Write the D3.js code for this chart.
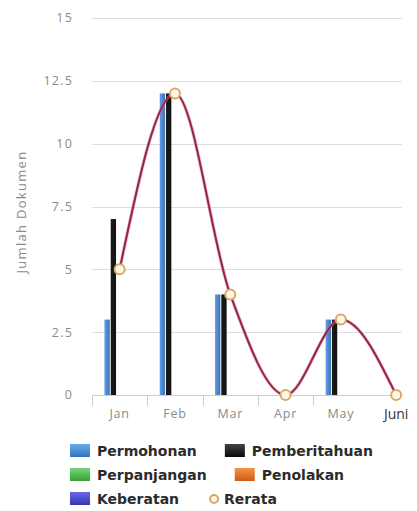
<!DOCTYPE html>
<html>
<head>
<meta charset="utf-8">
<script src="https://cdn.jsdelivr.net/npm/d3@7"></script>
<style>
  html, body { margin: 0; padding: 0; background: #fff; }
  svg { display: block; }
</style>
</head>
<body>
<svg id="chart" width="417" height="511"></svg>
<script>
// ---- data ----
const months = ["Jan", "Feb", "Mar", "Apr", "May", "Juni"];
const seriesNames = ["Permohonan", "Pemberitahuan", "Perpanjangan", "Penolakan", "Keberatan"];
const permohonan    = [3, 12, 4, 0, 3, 0];
const pemberitahuan = [7, 12, 4, 0, 3, 0];
const perpanjangan  = [0, 0, 0, 0, 0, 0];
const penolakan     = [0, 0, 0, 0, 0, 0];
const keberatan     = [0, 0, 0, 0, 0, 0];
const rerata        = [5, 12, 4, 0, 3, 0];
const yTicks = [0, 2.5, 5, 7.5, 10, 12.5, 15];
const yTickLabels = ["0", "2.5", "5", "7.5", "10", "12.5", "15"];
const yTitle = "Jumlah Dokumen";
const rerataName = "Rerata";

const seriesValues = [permohonan, pemberitahuan, perpanjangan, penolakan, keberatan];
const seriesColors = ["#4a7fc0", "#151515", "#4cb84c", "#e0742c", "#4848c4"];
const legendTop = ["#6aaee8", "#444", "#7ad47a", "#f4963e", "#6b6be0"];
const legendBot = ["#2f74bd", "#0a0a0a", "#34a034", "#d25a18", "#3434b0"];

const svg = d3.select("#chart");
const defs = svg.append("defs");

seriesColors.forEach((c, i) => {
  const g = defs.append("linearGradient").attr("id", "bar" + i)
    .attr("x1", 0).attr("x2", 1).attr("y1", 0).attr("y2", 0);
  g.append("stop").attr("offset", "0%").attr("stop-color", d3.color(c).brighter(0.6));
  g.append("stop").attr("offset", "100%").attr("stop-color", d3.color(c).darker(0.3));
  const l = defs.append("linearGradient").attr("id", "leg" + i)
    .attr("x1", 0).attr("x2", 0).attr("y1", 0).attr("y2", 1);
  l.append("stop").attr("offset", "0%").attr("stop-color", legendTop[i]);
  l.append("stop").attr("offset", "100%").attr("stop-color", legendBot[i]);
});

// ---- scales ----
const plotLeft = 92, plotRight = 402, plotTop = 18, plotBottom = 395;
const bandW = 55.3;
const x0 = d3.scaleBand().domain(months).range([plotLeft, plotLeft + bandW * months.length]).padding(0);
const x1 = d3.scaleBand().domain(seriesNames)
  .range([x0.bandwidth() * 0.225, x0.bandwidth() * 0.775]).paddingInner(0.15);
const y = d3.scaleLinear().domain([0, 15]).range([plotBottom, plotTop]);

// grid
svg.append("g").selectAll("line").data(yTicks.filter(t => t > 0)).join("line")
  .attr("x1", plotLeft).attr("x2", plotRight)
  .attr("y1", d => Math.round(y(d)) + 0.5).attr("y2", d => Math.round(y(d)) + 0.5)
  .attr("stroke", "#dedede").attr("stroke-width", 1);

// y labels
svg.append("g").selectAll("text").data(yTicks).join("text")
  .attr("x", 73).attr("y", d => y(d)).attr("dy", "0.35em")
  .attr("text-anchor", "end")
  .attr("font-family", "Open Sans, sans-serif").attr("font-size", 12.5)
  .attr("letter-spacing", 1.2)
  .attr("fill", "#8a8a8a")
  .text((d, i) => yTickLabels[i]);

// y title
svg.append("text")
  .attr("transform", "translate(26,212) rotate(-90)")
  .attr("text-anchor", "middle")
  .attr("font-family", "Open Sans, sans-serif").attr("font-size", 13)
  .attr("letter-spacing", 1.3)
  .attr("fill", "#8a8a8a")
  .text(yTitle);

// x axis line & ticks
svg.append("line").attr("x1", plotLeft).attr("x2", plotRight)
  .attr("y1", plotBottom + 0.5).attr("y2", plotBottom + 0.5)
  .attr("stroke", "#c4d0dc").attr("stroke-width", 1);
svg.append("g").selectAll("line").data(months.slice(0, months.length - 1)).join("line")
  .attr("x1", d => Math.round(x0(d)) + 0.5).attr("x2", d => Math.round(x0(d)) + 0.5)
  .attr("y1", plotBottom).attr("y2", plotBottom + 11)
  .attr("stroke", "#c4d0dc");

// x labels
svg.append("g").selectAll("text").data(months).join("text")
  .attr("x", d => x0(d) + x0.bandwidth() / 2)
  .attr("y", d => d === "Juni" ? 419 : 418)
  .attr("text-anchor", "middle")
  .attr("font-family", "Open Sans, sans-serif")
  .attr("font-size", d => d === "Juni" ? 14 : 12.5)
  .attr("letter-spacing", d => d === "Juni" ? 0 : 0.8)
  .attr("fill", d => d === "Juni" ? "#333" : "#8a8a8a")
  .text(d => d);

// bars
const barG = svg.append("g");
seriesNames.forEach((name, si) => {
  barG.append("g").selectAll("rect").data(months.map((m, i) => ({ m, v: seriesValues[si][i] })))
    .join("rect")
    .filter(d => d.v > 0)
    .attr("x", d => x0(d.m) + x1(name))
    .attr("width", x1.bandwidth())
    .attr("y", d => y(d.v))
    .attr("height", d => y(0) - y(d.v))
    .attr("fill", "url(#bar" + si + ")");
});

// rerata line
const pts = months.map((m, i) => [x0(m) + x0.bandwidth() / 2, y(rerata[i])]);
const line = d3.line().curve(d3.curveMonotoneX);
svg.append("path").attr("d", line(pts)).attr("fill", "none")
  .attr("stroke", "#e07a9a").attr("stroke-opacity", 0.5).attr("stroke-width", 3.5);
svg.append("path").attr("d", line(pts)).attr("fill", "none")
  .attr("stroke", "#952549").attr("stroke-width", 2);
svg.append("g").selectAll("circle").data(pts).join("circle")
  .attr("cx", d => d[0]).attr("cy", d => d[1]).attr("r", 5)
  .attr("fill", "#fff8ea").attr("stroke", "#d8a865").attr("stroke-width", 2);

// legend
const legendItems = seriesNames.map((n, i) => ({ name: n, type: "rect", idx: i }))
  .concat([{ name: rerataName, type: "circle" }]);
const rowsY = [451, 475, 499];
const legG = svg.append("g").attr("font-family", "DejaVu Sans, sans-serif")
  .attr("font-weight", "bold").attr("font-size", 14).attr("fill", "#2b2b2b");
let col2x = [];
legendItems.forEach((it, k) => {
  const row = Math.floor(k / 2), col = k % 2;
  const cy = rowsY[row];
  let sx = col === 0 ? 70 : col2x[row];
  if (it.type === "rect") {
    legG.append("rect").attr("x", sx).attr("y", cy - 7).attr("width", 20).attr("height", 13)
      .attr("fill", "url(#leg" + it.idx + ")");
  } else {
    legG.append("circle").attr("cx", sx + 7).attr("cy", cy).attr("r", 4)
      .attr("fill", "#fff8ea").attr("stroke", "#d8a865").attr("stroke-width", 2);
  }
  const tx = it.type === "rect" ? sx + 27 : sx + 17;
  const t = legG.append("text").attr("x", tx).attr("y", cy).attr("dy", "0.36em").text(it.name);
  if (col === 0) {
    col2x[row] = tx + t.node().getComputedTextLength() + 28;
  }
});
</script>
</body>
</html>
